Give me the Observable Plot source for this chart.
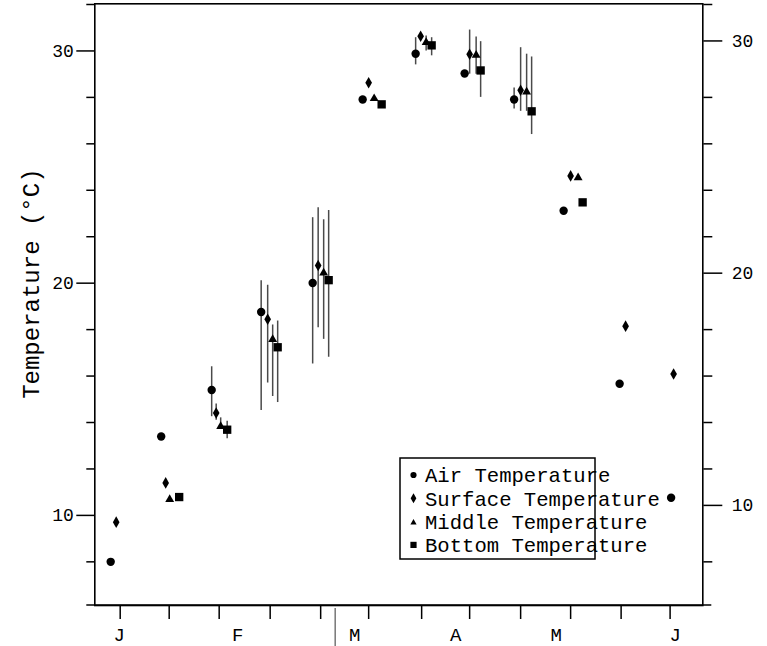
<!DOCTYPE html>
<html><head><meta charset="utf-8">
<script src="https://cdn.jsdelivr.net/npm/d3@7"></script>
<script src="https://cdn.jsdelivr.net/npm/@observablehq/plot@0.6"></script>
<style>
html,body{margin:0;padding:0;background:#fff;}
#chart{width:767px;height:646px;}
</style></head><body><div id="chart"></div>
<script>
// ---- data ----
const seriesNames = ["Air Temperature", "Surface Temperature", "Middle Temperature", "Bottom Temperature"];

const airX  = [-0.19, 0.82, 1.83, 2.82, 3.85, 4.85, 5.91, 6.89, 7.88, 8.87, 9.99, 11.02];
const airT  = [8.0, 13.4, 15.4, 18.76, 20.01, 27.91, 29.88, 29.03, 27.91, 23.12, 15.67, 10.76];
const airLo = [null, null, 14.25, 14.52, 16.52, null, 29.4, null, 27.5, null, null, null];
const airHi = [null, null, 16.4, 20.1, 22.82, null, 30.57, null, 28.4, null, null, null];

const surfX  = [-0.08, 0.91, 1.92, 2.95, 3.96, 4.97, 6.01, 6.99, 8.01, 9.01, 10.11, 11.07];
const surfT  = [9.71, 11.4, 14.41, 18.45, 20.76, 28.63, 30.63, 29.86, 28.31, 24.62, 18.15, 16.09];
const surfLo = [null, null, 14.1, 15.7, 18.08, null, null, 29.0, 27.4, null, null, null];
const surfHi = [null, null, 14.8, 19.91, 23.25, null, null, 30.9, 30.14, null, null, null];

const midX  = [0.99, 2.01, 3.05, 4.07, 5.08, 6.12, 7.12, 8.13, 9.16];
const midT  = [10.69, 13.83, 17.58, 20.44, 27.95, 30.37, 29.82, 28.24, 24.54];
const midLo = [null, 13.7, 15.12, 17.58, null, 30.0, 29.0, 27.4, null];
const midHi = [null, 14.2, 18.2, 22.73, null, 30.64, 30.6, 29.86, null];

const botX  = [1.18, 2.14, 3.15, 4.17, 5.23, 6.23, 7.21, 8.23, 9.25];
const botT  = [10.79, 13.69, 17.24, 20.13, 27.7, 30.24, 29.16, 27.4, 23.48];
const botLo = [null, 13.3, 14.86, 16.81, null, 29.79, 28.0, 26.4, null];
const botHi = [null, 14.05, 18.37, 23.13, null, 30.57, 30.4, 29.74, null];

const xTicks = [0, 0.98, 1.98, 3.0, 4.01, 4.97, 6.03, 6.99, 8.01, 9.01, 10.02, 11];
const monthLabels = ["J", "F", "M", "A", "M", "J"];
const monthPos = [-0.02, 2.35, 4.69, 6.71, 8.72, 11.1];
const separatorX = 4.31;
const yDomain = [6.12, 32.03];
const yMajor = [10, 20, 30];
const yMinor = [8, 12, 14, 16, 18, 22, 24, 26, 28, 32];
const yTitle = "Temperature (°C)";

// ---- build tables ----
function rows(xs, ts, lo, hi) {
  return xs.map((x, i) => ({x, t: ts[i], lo: lo[i], hi: hi[i]}));
}
const series = [
  {name: seriesNames[0], data: rows(airX, airT, airLo, airHi), symbol: "circle", r: 4.2, lr: 3.1},
  {name: seriesNames[1], data: rows(surfX, surfT, surfLo, surfHi), symbol: "diamond", r: 3.5, lr: 3.0},
  {name: seriesNames[2], data: rows(midX, midT, midLo, midHi), symbol: "triangle", r: 3.3, lr: 2.3},
  {name: seriesNames[3], data: rows(botX, botT, botLo, botHi), symbol: "square", r: 4.7, lr: 3.5}
];
const d3Symbols = {circle: d3.symbolCircle, diamond: d3.symbolDiamond, triangle: d3.symbolTriangle, square: d3.symbolSquare};

const FONT = "'Liberation Mono', 'DejaVu Sans Mono', monospace";

// legend, separator and bottom-corner ticks drawn as a render-function mark
function overlay(index, scales, values, dims) {
  const g = d3.create("svg:g").attr("font-family", FONT).attr("text-anchor", "start");
  const sx = scales.x(separatorX);
  const yb = dims.height - dims.marginBottom;
  g.append("line")
    .attr("x1", sx).attr("x2", sx)
    .attr("y1", yb + 3).attr("y2", dims.height)
    .attr("stroke", "#555").attr("stroke-width", 1.2);
  g.append("line")
    .attr("x1", dims.marginLeft - 8).attr("x2", dims.width - dims.marginRight + 9)
    .attr("y1", yb).attr("y2", yb)
    .attr("stroke", "black").attr("stroke-width", 1.6);
  const lx = 400, ly = 458, lw = 195, lh = 101, rowY0 = 475, rowStep = 23.3;
  series.forEach((s, i) => {
    const y = rowY0 + i * rowStep;
    g.append("path")
      .attr("transform", `translate(${lx + 13.5},${y + (s.symbol === "triangle" ? 1 : 0)})`)
      .attr("d", d3.symbol(d3Symbols[s.symbol], Math.PI * s.lr * s.lr)())
      .attr("fill", "black");
    g.append("text")
      .attr("x", lx + 25).attr("y", y)
      .attr("dy", "0.35em")
      .attr("text-anchor", "start")
      .attr("font-size", 20.6)
      .attr("fill", "black")
      .text(s.name);
  });
  g.append("rect")
    .attr("x", lx).attr("y", ly).attr("width", lw).attr("height", lh)
    .attr("fill", "none").attr("stroke", "black").attr("stroke-width", 1.5);
  return g.node();
}

const marks = [];
series.forEach(s => {
  marks.push(Plot.ruleX(s.data.filter(d => d.lo != null), {x: "x", y1: "lo", y2: "hi", stroke: "#4a4a4a", strokeWidth: 1.5}));
});
series.forEach(s => {
  marks.push(Plot.dot(s.data, {x: "x", y: "t", symbol: s.symbol, r: s.r, fill: "black", stroke: "none"}));
});

const chart = Plot.plot({
  width: 767,
  height: 646,
  marginLeft: 94.3,
  marginRight: 64.7,
  marginTop: 3.3,
  marginBottom: 41,
  style: {fontFamily: FONT, fontSize: "18px", background: "white", color: "black"},
  x: {domain: [-0.508, 11.654], axis: null},
  y: {domain: yDomain, axis: null},
  marks: [
    ...marks,
    Plot.frame({stroke: "black", strokeWidth: 1.6}),
    // bottom ticks and month labels
    Plot.axisX({ticks: xTicks, tickSize: 14, tickFormat: () => "", strokeWidth: 1.5}),
    Plot.text(monthPos.map((p, i) => ({p, label: monthLabels[i]})), {
      x: "p", text: "label", frameAnchor: "bottom", lineAnchor: "middle", dy: 29.5,
      fontSize: 19, fill: "black"
    }),
    // left axis
    Plot.axisY({anchor: "left", ticks: yMinor, tickSize: 8, tickFormat: () => "", strokeWidth: 1.5}),
    Plot.axisY({anchor: "left", ticks: yMajor, tickSize: 18, tickPadding: 3, fontSize: 18, strokeWidth: 1.5}),
    // right axis
    Plot.axisY({anchor: "right", ticks: yMinor, tickSize: 9, tickFormat: () => "", strokeWidth: 1.5}),
    Plot.axisY({anchor: "right", ticks: yMajor, tickSize: 19, tickPadding: 10, dy: -10, fontSize: 18, strokeWidth: 1.5}),
    // y title
    Plot.text([yTitle], {
      frameAnchor: "left", dx: -63.3, dy: -21, rotate: -90,
      textAnchor: "middle", lineAnchor: "middle", fontSize: 24, fill: "black"
    }),
    overlay
  ]
});
document.getElementById("chart").appendChild(chart);
</script>
</body></html>
